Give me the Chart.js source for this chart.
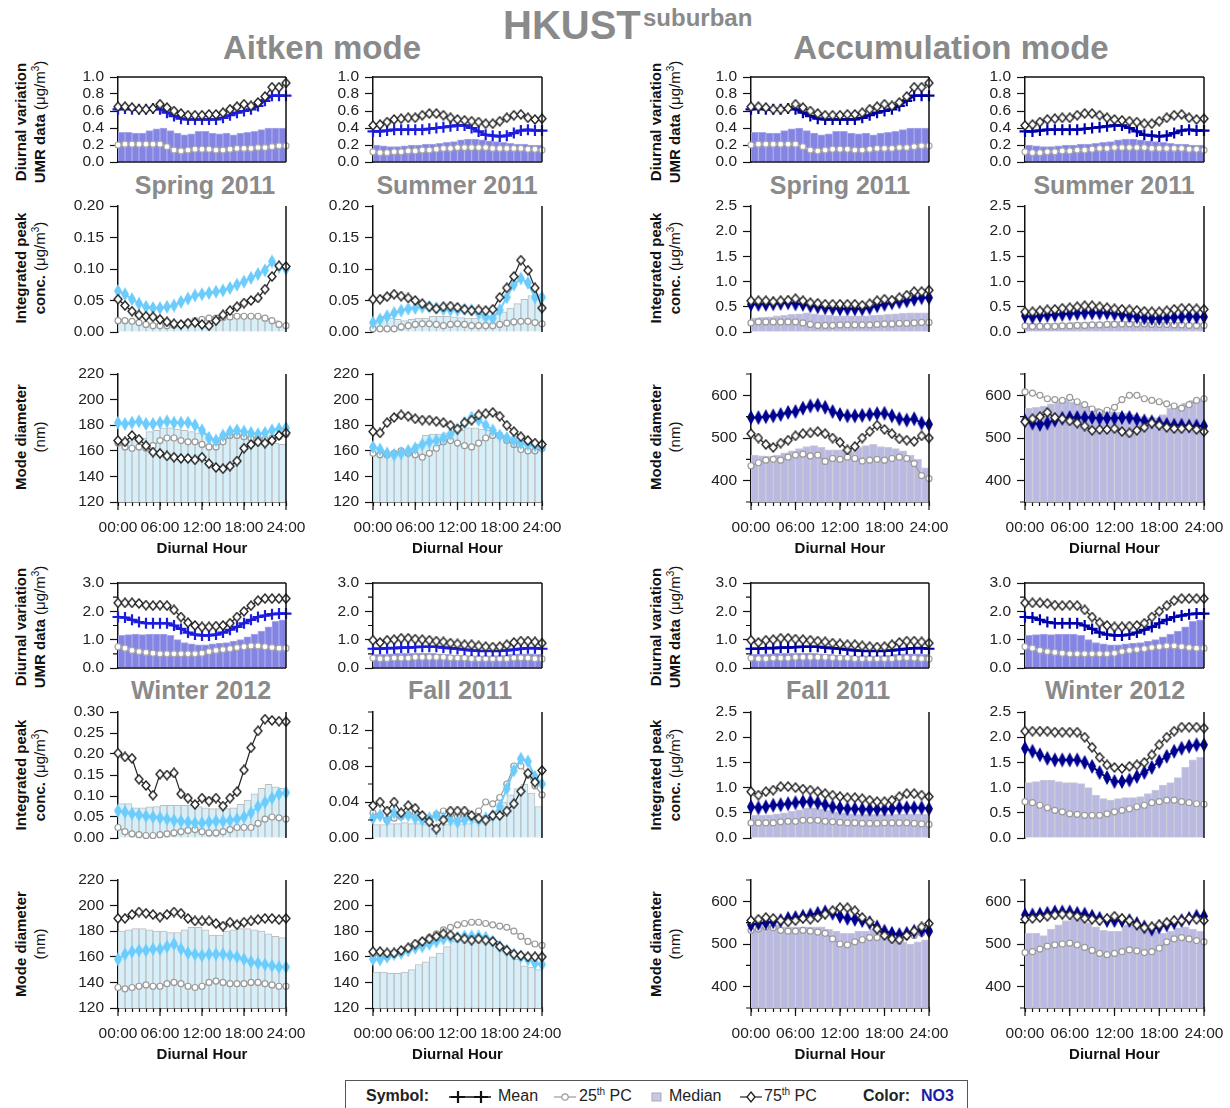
<!DOCTYPE html>
<html>
<head>
<meta charset="utf-8">
<script src="https://cdn.jsdelivr.net/npm/chart.js@4.4.1/dist/chart.umd.min.js"></script>
<style>
  body { margin: 0; background: #fff; width: 1230px; height: 1108px; position: relative; overflow: hidden;
         font-family: 'Liberation Sans', Arial, sans-serif; }
  .t { position: absolute; color: #8a8a8a; font-weight: bold; white-space: nowrap; transform: translate(-50%, -50%); }
  .yt { position: absolute; transform: translate(-50%, -50%) rotate(-90deg); text-align: center; font-size: 15px;
        line-height: 19px; white-space: nowrap; color: #111; }
  .yt sup, #leg sup { font-size: 10px; vertical-align: 6px; line-height: 0; }
  #leg { position: absolute; left: 345px; top: 1080px; width: 623px; height: 40px; border: 1.5px solid #555;
         box-sizing: border-box; font-size: 16px; color: #222; }
  #leg span, #leg svg { position: absolute; }
</style>
</head>
<body>

<div style="position:absolute;left:503px;top:3px;font-size:40px;font-weight:bold;color:#8a8a8a">HKUST</div>
<div style="position:absolute;left:643px;top:4px;font-size:24px;font-weight:bold;color:#8a8a8a">suburban</div>
<div class="t" style="left:322px;top:48px;font-size:33px">Aitken mode</div>
<div class="t" style="left:951px;top:48px;font-size:33px">Accumulation mode</div>

<div class="t" style="left:205px;top:185px;font-size:25px">Spring 2011</div>
<div class="t" style="left:457px;top:185px;font-size:25px">Summer 2011</div>
<div class="t" style="left:840px;top:185px;font-size:25px">Spring 2011</div>
<div class="t" style="left:1114px;top:185px;font-size:25px">Summer 2011</div>
<div class="t" style="left:201px;top:690px;font-size:25px">Winter 2012</div>
<div class="t" style="left:460px;top:690px;font-size:25px">Fall 2011</div>
<div class="t" style="left:838px;top:690px;font-size:25px">Fall 2011</div>
<div class="t" style="left:1115px;top:690px;font-size:25px">Winter 2012</div>

<div class="yt" style="left:30px;top:122px"><b>Diurnal variation</b><br><b>UMR data</b> (μg/m<sup>3</sup>)</div>
<div class="yt" style="left:30px;top:268px"><b>Integrated peak</b><br><b>conc.</b> (μg/m<sup>3</sup>)</div>
<div class="yt" style="left:30px;top:437px"><b>Mode diameter</b><br>(nm)</div>
<div class="yt" style="left:30px;top:627px"><b>Diurnal variation</b><br><b>UMR data</b> (μg/m<sup>3</sup>)</div>
<div class="yt" style="left:30px;top:775px"><b>Integrated peak</b><br><b>conc.</b> (μg/m<sup>3</sup>)</div>
<div class="yt" style="left:30px;top:944px"><b>Mode diameter</b><br>(nm)</div>
<div class="yt" style="left:665px;top:122px"><b>Diurnal variation</b><br><b>UMR data</b> (μg/m<sup>3</sup>)</div>
<div class="yt" style="left:665px;top:268px"><b>Integrated peak</b><br><b>conc.</b> (μg/m<sup>3</sup>)</div>
<div class="yt" style="left:665px;top:437px"><b>Mode diameter</b><br>(nm)</div>
<div class="yt" style="left:665px;top:627px"><b>Diurnal variation</b><br><b>UMR data</b> (μg/m<sup>3</sup>)</div>
<div class="yt" style="left:665px;top:775px"><b>Integrated peak</b><br><b>conc.</b> (μg/m<sup>3</sup>)</div>
<div class="yt" style="left:665px;top:944px"><b>Mode diameter</b><br>(nm)</div>

<div id="leg">
  <span style="left:20px;top:6px;font-weight:bold">Symbol:</span>
  <svg style="left:101px;top:8px" width="46" height="16"><line x1="2" y1="8" x2="44" y2="8" stroke="#111" stroke-width="1.6"/><path d="M11 2v12M4 8h14M34 2v12M27 8h14" stroke="#111" stroke-width="2.2"/></svg>
  <span style="left:152px;top:6px">Mean</span>
  <svg style="left:207px;top:8px" width="24" height="16"><line x1="1" y1="8" x2="23" y2="8" stroke="#999" stroke-width="1.2"/><circle cx="12" cy="8" r="3.2" fill="#fff" stroke="#999" stroke-width="1.2"/></svg>
  <span style="left:233px;top:6px">25<sup>th</sup> PC</span>
  <svg style="left:305px;top:9px" width="12" height="14"><rect x="1" y="3" width="9" height="8" fill="#c8c8e8" stroke="#aaa"/></svg>
  <span style="left:323px;top:6px">Median</span>
  <svg style="left:393px;top:8px" width="24" height="16"><line x1="1" y1="8" x2="23" y2="8" stroke="#222" stroke-width="1.2"/><path d="M12 3l4 5l-4 5l-4-5z" fill="#fff" stroke="#222" stroke-width="1.3"/></svg>
  <span style="left:418px;top:6px">75<sup>th</sup> PC</span>
  <span style="left:517px;top:6px;font-weight:bold">Color:</span>
  <span style="left:575px;top:6px;font-weight:bold;color:#1c1ca8">NO3</span>
</div>

<script>
// x positions: hourly points for the lines, hour centres for the median bars
const hours = [0,1,2,3,4,5,6,7,8,9,10,11,12,13,14,15,16,17,18,19,20,21,22,23,24];
const barHours = [0.5,1.5,2.5,3.5,4.5,5.5,6.5,7.5,8.5,9.5,10.5,11.5,12.5,13.5,14.5,15.5,16.5,17.5,18.5,19.5,20.5,21.5,22.5,23.5];
const hourTicks = [0,1,2,3,4,5,6,7,8,9,10,11,12,13,14,15,16,17,18,19,20,21,22,23,24];
const hourLabels = ['00:00','06:00','12:00','18:00','24:00'];
const hourMajor = [0,6,12,18,24];

// y tick values
const umrTicks1 = [0,0.2,0.4,0.6,0.8,1.0];
const umrTicks3 = [0,1,2,3];
const umrMinor3 = [0.5,1.5,2.5];
const peakTicks20 = [0,0.05,0.10,0.15,0.20];
const peakTicks30 = [0,0.05,0.10,0.15,0.20,0.25,0.30];
const peakTicks14 = [0,0.04,0.08,0.12];
const peakMinor14 = [0.02,0.06,0.10,0.14];
const accPeakTicks = [0,0.5,1.0,1.5,2.0,2.5];
const aitDiamTicks = [120,140,160,180,200,220];
const accDiamTicks = [400,500,600];
const accDiamMinor = [350,450,550,650];

// ---- UMR data (same in Aitken and Accumulation columns)
const umrSpringMean = [0.62,0.63,0.62,0.62,0.62,0.63,0.62,0.58,0.54,0.51,0.50,0.50,0.50,0.50,0.50,0.52,0.55,0.58,0.60,0.62,0.66,0.72,0.78,0.78,0.78];
const umrSpringP75 = [0.65,0.65,0.64,0.62,0.62,0.63,0.68,0.64,0.60,0.57,0.55,0.55,0.55,0.56,0.56,0.58,0.62,0.65,0.68,0.66,0.70,0.77,0.88,0.88,0.93];
const umrSpringP25 = [0.20,0.21,0.21,0.21,0.21,0.21,0.21,0.18,0.14,0.13,0.14,0.15,0.15,0.15,0.14,0.14,0.15,0.16,0.16,0.16,0.17,0.17,0.18,0.19,0.19];
const umrSpringMed = [0.35,0.35,0.34,0.34,0.37,0.39,0.40,0.37,0.34,0.32,0.33,0.36,0.36,0.34,0.33,0.34,0.32,0.34,0.35,0.36,0.38,0.40,0.40,0.40];

const umrSummerMean = [0.36,0.36,0.37,0.38,0.38,0.38,0.38,0.38,0.39,0.40,0.41,0.42,0.43,0.43,0.40,0.36,0.32,0.31,0.30,0.31,0.34,0.37,0.38,0.37,0.37];
const umrSummerP75 = [0.43,0.44,0.47,0.50,0.51,0.52,0.52,0.55,0.57,0.57,0.55,0.52,0.50,0.49,0.48,0.47,0.45,0.45,0.48,0.52,0.55,0.56,0.52,0.50,0.51];
const umrSummerP25 = [0.12,0.11,0.11,0.12,0.12,0.13,0.13,0.14,0.14,0.15,0.16,0.16,0.17,0.17,0.17,0.17,0.17,0.16,0.16,0.16,0.16,0.16,0.15,0.15,0.14];
const umrSummerMed = [0.20,0.19,0.18,0.18,0.19,0.20,0.20,0.21,0.21,0.22,0.23,0.24,0.26,0.27,0.27,0.26,0.25,0.24,0.23,0.22,0.21,0.21,0.20,0.20];

const umrWinterMean = [1.80,1.78,1.70,1.62,1.58,1.58,1.58,1.58,1.50,1.38,1.25,1.18,1.15,1.15,1.18,1.25,1.35,1.45,1.58,1.70,1.80,1.85,1.90,1.92,1.92];
const umrWinterP75 = [2.30,2.30,2.30,2.28,2.22,2.20,2.22,2.20,2.05,1.80,1.60,1.50,1.45,1.45,1.48,1.50,1.58,1.80,2.00,2.20,2.38,2.45,2.45,2.45,2.45];
const umrWinterP25 = [0.75,0.70,0.62,0.58,0.55,0.52,0.50,0.50,0.50,0.50,0.50,0.50,0.52,0.58,0.62,0.65,0.68,0.72,0.75,0.78,0.78,0.75,0.72,0.70,0.70];
const umrWinterMed = [1.15,1.18,1.20,1.18,1.20,1.20,1.20,1.15,1.00,0.90,0.85,0.82,0.82,0.85,0.88,0.90,0.95,1.00,1.10,1.20,1.30,1.45,1.65,1.70];

const umrFallMean = [0.68,0.68,0.70,0.70,0.72,0.72,0.74,0.75,0.75,0.75,0.72,0.70,0.68,0.65,0.62,0.60,0.60,0.60,0.60,0.62,0.65,0.68,0.70,0.70,0.68];
const umrFallP75 = [0.98,0.90,0.98,1.00,1.05,1.05,1.02,1.00,0.98,0.95,0.92,0.88,0.85,0.82,0.82,0.78,0.75,0.74,0.75,0.82,0.90,0.95,0.95,0.92,0.88];
const umrFallP25 = [0.35,0.33,0.33,0.35,0.35,0.35,0.38,0.38,0.38,0.38,0.38,0.36,0.35,0.35,0.33,0.33,0.33,0.33,0.33,0.33,0.35,0.36,0.35,0.33,0.32];
const umrFallMed = [0.48,0.48,0.50,0.52,0.52,0.52,0.53,0.53,0.52,0.50,0.48,0.46,0.45,0.44,0.43,0.43,0.43,0.44,0.45,0.48,0.50,0.50,0.50,0.48];

// ---- Aitken mode, integrated peak conc.
const aitPeakSpringMean = [0.065,0.060,0.052,0.045,0.040,0.038,0.038,0.040,0.042,0.048,0.053,0.058,0.060,0.062,0.064,0.066,0.070,0.075,0.080,0.086,0.092,0.098,0.112,0.103,0.100];
const aitPeakSpringP75 = [0.052,0.042,0.033,0.027,0.025,0.024,0.020,0.016,0.013,0.012,0.014,0.015,0.012,0.010,0.018,0.027,0.034,0.040,0.046,0.050,0.054,0.068,0.088,0.105,0.104];
const aitPeakSpringP25 = [0.018,0.018,0.017,0.015,0.012,0.010,0.010,0.010,0.011,0.012,0.015,0.018,0.020,0.022,0.022,0.023,0.024,0.025,0.025,0.025,0.025,0.022,0.018,0.012,0.010];
const aitPeakSpringMed = [0.020,0.018,0.017,0.015,0.014,0.013,0.012,0.012,0.013,0.015,0.018,0.020,0.022,0.025,0.027,0.028,0.028,0.028,0.027,0.027,0.025,0.022,0.018,0.012];

const aitPeakSummerMean = [0.015,0.020,0.025,0.030,0.034,0.037,0.038,0.040,0.040,0.038,0.036,0.035,0.035,0.036,0.035,0.030,0.024,0.022,0.035,0.055,0.075,0.085,0.078,0.055,0.055];
const aitPeakSummerP75 = [0.052,0.052,0.056,0.060,0.057,0.054,0.050,0.045,0.040,0.037,0.040,0.041,0.039,0.036,0.034,0.035,0.034,0.036,0.055,0.070,0.088,0.114,0.098,0.070,0.038];
const aitPeakSummerP25 = [0.005,0.005,0.005,0.005,0.008,0.010,0.012,0.013,0.013,0.012,0.010,0.012,0.013,0.012,0.010,0.010,0.010,0.010,0.012,0.014,0.016,0.017,0.017,0.015,0.013];
const aitPeakSummerMed = [0.015,0.025,0.022,0.020,0.018,0.020,0.022,0.022,0.025,0.025,0.025,0.024,0.023,0.022,0.022,0.024,0.026,0.028,0.032,0.038,0.045,0.052,0.058,0.060];

const aitPeakWinterMean = [0.065,0.062,0.058,0.055,0.052,0.050,0.048,0.045,0.042,0.040,0.038,0.036,0.036,0.038,0.040,0.040,0.042,0.045,0.050,0.060,0.075,0.085,0.095,0.105,0.108];
const aitPeakWinterP75 = [0.202,0.193,0.190,0.140,0.125,0.102,0.152,0.150,0.155,0.105,0.095,0.080,0.095,0.088,0.095,0.076,0.095,0.110,0.162,0.215,0.255,0.283,0.280,0.278,0.277];
const aitPeakWinterP25 = [0.025,0.015,0.010,0.008,0.006,0.006,0.008,0.010,0.012,0.015,0.018,0.020,0.015,0.012,0.012,0.015,0.020,0.025,0.025,0.025,0.035,0.045,0.050,0.048,0.045];
const aitPeakWinterMed = [0.082,0.082,0.072,0.072,0.074,0.075,0.078,0.078,0.078,0.078,0.078,0.075,0.072,0.070,0.070,0.070,0.072,0.080,0.090,0.105,0.118,0.128,0.122,0.118];

const aitPeakFallMean = [0.022,0.025,0.020,0.028,0.025,0.025,0.022,0.020,0.022,0.025,0.022,0.020,0.018,0.020,0.022,0.020,0.022,0.025,0.035,0.055,0.075,0.088,0.085,0.068,0.060];
const aitPeakFallP75 = [0.036,0.040,0.030,0.040,0.028,0.036,0.033,0.025,0.018,0.010,0.020,0.030,0.030,0.030,0.025,0.022,0.020,0.025,0.025,0.030,0.038,0.052,0.072,0.062,0.075];
const aitPeakFallP25 = [0.028,0.025,0.020,0.022,0.024,0.026,0.028,0.025,0.022,0.026,0.030,0.026,0.024,0.025,0.025,0.030,0.040,0.038,0.045,0.060,0.080,0.080,0.070,0.058,0.048];
const aitPeakFallMed = [0.015,0.015,0.016,0.016,0.017,0.016,0.016,0.015,0.015,0.016,0.015,0.016,0.015,0.016,0.018,0.020,0.025,0.030,0.040,0.048,0.055,0.060,0.050,0.035];

// ---- Aitken mode, mode diameter (nm)
const aitDiamSpringMean = [182,181,182,183,181,181,182,183,182,182,182,180,176,170,168,172,175,176,175,174,173,174,176,177,178];
const aitDiamSpringP75 = [168,167,172,169,164,159,158,156,155,154,154,153,155,150,147,146,148,152,162,165,167,166,168,172,174];
const aitDiamSpringP25 = [166,163,162,163,162,164,168,170,170,168,167,167,165,163,163,167,172,172,171,170,170,169,170,171,173];
const aitDiamSpringMed = [168,168,170,170,175,176,178,178,177,176,175,174,174,170,168,172,172,172,170,168,167,166,166,165];

const aitDiamSummerMean = [163,161,158,157,158,160,162,165,167,168,170,173,177,182,186,184,180,176,172,170,168,166,165,164,163];
const aitDiamSummerP75 = [175,174,182,186,188,187,185,184,184,183,182,180,177,182,184,188,189,190,187,180,175,171,168,166,165];
const aitDiamSummerP25 = [158,157,157,158,160,158,157,155,158,162,167,168,166,164,163,166,170,172,172,168,165,161,160,160,162];
const aitDiamSummerMed = [158,158,157,157,158,160,165,172,173,173,174,175,176,178,178,177,176,174,172,171,170,170,168,165];

const aitDiamWinterMean = [158,162,164,165,165,166,166,168,170,166,163,162,161,162,162,162,161,160,158,156,155,154,153,152,152];
const aitDiamWinterP75 = [190,190,193,195,194,193,191,193,195,194,190,188,188,188,186,184,187,185,187,188,189,190,190,189,190];
const aitDiamWinterP25 = [136,135,136,137,138,137,137,139,140,139,137,136,137,140,141,140,139,139,139,140,140,139,138,137,137];
const aitDiamWinterMed = [180,181,182,182,181,180,180,179,179,181,183,183,181,177,177,180,181,182,182,181,180,178,176,175];

const aitDiamFallMean = [158,158,160,162,163,165,167,168,170,172,174,175,175,176,176,176,175,172,168,165,162,160,158,155,154];
const aitDiamFallP75 = [164,164,163,163,165,167,170,172,174,176,178,177,175,174,173,174,173,172,168,165,162,161,160,160,160];
const aitDiamFallP25 = [162,161,160,162,163,166,168,172,175,178,181,183,185,186,187,187,186,185,184,183,180,176,172,170,169];
const aitDiamFallMed = [148,148,147,147,148,150,154,156,160,163,168,172,175,176,176,176,175,172,168,163,158,153,152,150];

// ---- Accumulation mode, integrated peak conc.
const accPeakSpringMean = [0.55,0.55,0.55,0.56,0.57,0.58,0.56,0.55,0.52,0.50,0.48,0.47,0.46,0.46,0.46,0.46,0.48,0.52,0.55,0.58,0.60,0.62,0.65,0.68,0.68];
const accPeakSpringP75 = [0.62,0.62,0.62,0.60,0.62,0.63,0.66,0.62,0.58,0.57,0.55,0.55,0.55,0.55,0.55,0.53,0.56,0.62,0.65,0.63,0.68,0.73,0.80,0.80,0.83];
const accPeakSpringP25 = [0.18,0.20,0.20,0.20,0.20,0.20,0.20,0.18,0.15,0.13,0.13,0.13,0.14,0.14,0.14,0.14,0.14,0.15,0.16,0.16,0.17,0.17,0.18,0.19,0.19];
const accPeakSpringMed = [0.28,0.29,0.30,0.32,0.33,0.35,0.36,0.38,0.36,0.34,0.33,0.32,0.32,0.32,0.32,0.32,0.33,0.34,0.35,0.36,0.37,0.38,0.38,0.38];

const accPeakSummerMean = [0.32,0.30,0.32,0.33,0.34,0.35,0.36,0.37,0.38,0.38,0.38,0.38,0.36,0.34,0.32,0.30,0.28,0.27,0.27,0.28,0.29,0.30,0.31,0.30,0.30];
const accPeakSummerP75 = [0.40,0.40,0.42,0.44,0.45,0.47,0.48,0.50,0.52,0.52,0.50,0.48,0.46,0.45,0.44,0.43,0.41,0.40,0.40,0.42,0.45,0.47,0.47,0.46,0.45];
const accPeakSummerP25 = [0.12,0.11,0.11,0.11,0.11,0.12,0.12,0.13,0.13,0.14,0.14,0.15,0.15,0.16,0.16,0.16,0.16,0.15,0.15,0.15,0.14,0.14,0.13,0.13,0.13];
const accPeakSummerMed = [0.18,0.17,0.17,0.17,0.18,0.18,0.19,0.19,0.20,0.20,0.20,0.21,0.21,0.21,0.21,0.20,0.20,0.20,0.19,0.19,0.19,0.18,0.18,0.18];

const accPeakFallMean = [0.62,0.60,0.62,0.65,0.66,0.68,0.70,0.72,0.72,0.70,0.66,0.62,0.60,0.58,0.58,0.57,0.57,0.57,0.57,0.58,0.60,0.60,0.60,0.60,0.58];
const accPeakFallP75 = [0.92,0.85,0.92,0.95,1.02,1.02,1.00,0.97,0.95,0.92,0.88,0.85,0.82,0.80,0.80,0.78,0.75,0.72,0.72,0.75,0.82,0.88,0.88,0.85,0.82];
const accPeakFallP25 = [0.30,0.30,0.30,0.30,0.32,0.33,0.33,0.35,0.35,0.35,0.33,0.32,0.31,0.30,0.30,0.29,0.29,0.29,0.30,0.30,0.30,0.30,0.29,0.28,0.27];
const accPeakFallMed = [0.45,0.45,0.46,0.48,0.50,0.53,0.56,0.60,0.60,0.58,0.55,0.52,0.50,0.48,0.47,0.47,0.47,0.47,0.47,0.47,0.48,0.48,0.48,0.47];

const accPeakWinterMean = [1.78,1.72,1.65,1.58,1.55,1.55,1.55,1.55,1.50,1.42,1.30,1.20,1.12,1.12,1.15,1.22,1.30,1.40,1.52,1.62,1.72,1.78,1.82,1.85,1.85];
const accPeakWinterP75 = [2.12,2.12,2.12,2.12,2.10,2.10,2.10,2.10,2.00,1.80,1.60,1.45,1.40,1.38,1.42,1.45,1.50,1.65,1.85,2.00,2.12,2.20,2.20,2.20,2.18];
const accPeakWinterP25 = [0.72,0.70,0.65,0.60,0.55,0.52,0.48,0.47,0.45,0.45,0.45,0.48,0.52,0.55,0.58,0.62,0.65,0.70,0.72,0.75,0.75,0.72,0.70,0.68,0.67];
const accPeakWinterMed = [1.10,1.12,1.15,1.15,1.12,1.10,1.10,1.08,1.00,0.85,0.78,0.75,0.78,0.80,0.80,0.82,0.88,0.95,1.05,1.10,1.20,1.40,1.55,1.60];

// ---- Accumulation mode, mode diameter (nm)
const accDiamSpringMean = [548,548,550,552,555,560,562,570,575,577,572,562,555,552,552,553,555,557,558,552,545,542,545,535,532];
const accDiamSpringP75 = [510,500,485,478,488,495,505,510,512,515,510,500,490,472,480,500,515,530,520,510,498,495,492,505,500];
const accDiamSpringP25 = [435,442,448,450,448,455,460,462,458,460,445,452,450,455,452,446,448,450,448,452,455,452,440,412,405];
const accDiamSpringMed = [460,458,457,460,465,470,475,480,482,478,472,472,472,468,478,482,485,480,478,475,470,460,450,430];

const accDiamSummerMean = [540,535,532,535,542,546,548,548,548,548,546,546,546,548,548,544,540,538,535,532,530,530,528,528,528];
const accDiamSummerP75 = [538,545,550,560,548,545,540,535,528,518,520,520,522,515,512,518,525,535,530,525,522,522,525,520,515];
const accDiamSummerP25 = [608,605,600,592,590,588,595,585,578,568,560,565,572,590,600,600,592,588,585,580,575,570,578,588,592];
const accDiamSummerMed = [570,572,575,580,585,588,585,580,575,570,565,562,560,558,555,550,548,548,555,570,575,582,588,592];

const accDiamFallMean = [545,548,550,552,555,560,562,565,568,572,575,572,565,560,558,555,550,540,530,525,522,525,530,532,530];
const accDiamFallP75 = [555,558,562,560,555,552,555,560,558,562,570,578,585,585,578,562,552,535,520,512,510,520,530,540,548];
const accDiamFallP25 = [532,535,540,538,532,530,530,532,530,528,525,512,500,498,505,510,515,515,520,520,522,518,520,525,530];
const accDiamFallMed = [535,540,545,545,540,540,540,540,540,540,535,530,525,525,530,530,535,530,520,515,505,500,505,510];

const accDiamWinterMean = [568,568,570,572,575,575,575,572,570,565,560,555,555,555,555,548,540,535,540,545,550,555,560,565,565];
const accDiamWinterP75 = [558,560,562,565,568,570,568,565,560,558,555,560,565,560,555,545,538,540,545,550,555,555,560,558,555];
const accDiamWinterP25 = [480,482,488,495,498,500,502,498,492,485,478,475,478,482,486,484,480,482,490,505,512,515,512,508,505];
const accDiamWinterMed = [525,525,520,535,545,555,560,558,550,540,532,530,530,545,548,545,540,530,525,530,538,540,535,530];

Chart.defaults.font.family = "'Liberation Sans', Arial, sans-serif";

function diamond(w, h, fill, stroke, lw) {
    const c = document.createElement('canvas');
    c.width = w + 2; c.height = h + 2;
    const g = c.getContext('2d');
    g.beginPath();
    g.moveTo(c.width / 2, 1); g.lineTo(c.width - 1, c.height / 2);
    g.lineTo(c.width / 2, c.height - 1); g.lineTo(1, c.height / 2);
    g.closePath();
    g.fillStyle = fill; g.fill();
    if (stroke) { g.strokeStyle = stroke; g.lineWidth = lw; g.stroke(); }
    return c;
}
const openDiamond = diamond(8, 9, '#fff', '#222', 1.4);

const styles = {
    umrA: { bar: '#8484e2', barEdge: '#a9a9ec', mean: '#1c1cdc', meanPt: 'cross', meanW: 2.6, p25Line: '#cfcfcf', p25Pt: '#a8a8a8' },
    umrB: { bar: '#8484e2', barEdge: '#a9a9ec', mean: '#0000a8', meanPt: 'cross', meanW: 2.6, p25Line: '#cfcfcf', p25Pt: '#a8a8a8' },
    ait:  { bar: '#d7eff9', barEdge: '#bdbdbd', mean: '#6cccfc', meanPt: diamond(8, 14, '#6cccfc'), meanW: 2, p25Line: '#9a9a9a', p25Pt: '#9a9a9a' },
    acc:  { bar: '#b9b9e2', barEdge: '#cbcbd6', mean: '#00008f', meanPt: diamond(8, 15, '#00008f'), meanW: 2, p25Line: '#9a9a9a', p25Pt: '#9a9a9a' }
};

// right edge, top edge (UMR), minor y ticks and the longer 6-hour ticks
const framePlugin = {
    id: 'frame',
    afterDraw(chart, args, o) {
        const { ctx, chartArea: a, scales } = chart;
        ctx.save();
        ctx.strokeStyle = '#111';
        ctx.lineWidth = 1.5;
        ctx.beginPath();
        ctx.moveTo(a.right, a.top); ctx.lineTo(a.right, a.bottom);
        if (o.box) {
            ctx.moveTo(a.left, a.top); ctx.lineTo(a.right, a.top);
            ctx.moveTo(a.left, a.bottom); ctx.lineTo(a.right, a.bottom);
        }
        ctx.stroke();
        ctx.lineWidth = 1.2;
        ctx.beginPath();
        (o.minorY || []).forEach(v => {
            const y = scales.y.getPixelForValue(v);
            ctx.moveTo(a.left - 5, y); ctx.lineTo(a.left, y);
        });
        (o.majorX || []).forEach(v => {
            const x = scales.x.getPixelForValue(v);
            ctx.moveTo(x, a.bottom); ctx.lineTo(x, a.bottom + 8);
        });
        ctx.stroke();
        ctx.restore();
    }
};

function makePanel(p) {
    const xLab = p.row === 3 || p.row === 6;
    const xH = 56, padT = 12, padR = 28, yW = 70;
    const padB = xLab ? 2 : 12;
    const W = yW + p.w + padR, H = padT + p.h + (xLab ? xH : 0) + padB;
    const cv = document.createElement('canvas');
    cv.width = W; cv.height = H;
    cv.style.cssText = `position:absolute;left:${p.x - yW}px;top:${p.y - padT}px;width:${W}px;height:${H}px`;
    document.body.appendChild(cv);
    const st = styles[p.style];
    const pts = arr => hours.map((x, i) => ({ x, y: arr[i] }));

    new Chart(cv, {
        type: 'line',
        data: {
            datasets: [
                { type: 'bar', data: barHours.map((x, i) => ({ x, y: p.med[i] })), backgroundColor: st.bar,
                  borderColor: st.barEdge, borderWidth: 1, barPercentage: 1, categoryPercentage: 1, order: 4 },
                { data: pts(p.p25), borderColor: st.p25Line, borderWidth: 1.2, pointStyle: 'circle', pointRadius: 3,
                  pointBorderWidth: 1.2, pointBackgroundColor: '#fff', pointBorderColor: st.p25Pt, order: 3, clip: false },
                { data: pts(p.mean), borderColor: st.mean, borderWidth: st.meanW, pointStyle: st.meanPt, pointRadius: 5.5,
                  pointBorderWidth: 2.2, pointBorderColor: st.mean, pointBackgroundColor: st.mean, order: 2, clip: false },
                { data: pts(p.p75), borderColor: '#222', borderWidth: 1.2, pointStyle: openDiamond, pointRadius: 4,
                  order: 1, clip: false }
            ]
        },
        options: {
            responsive: false,
            animation: false,
            events: [],
            layout: { padding: { left: 0, top: padT, right: padR, bottom: padB } },
            plugins: {
                legend: { display: false },
                tooltip: { enabled: false },
                frame: { box: p.row === 1 || p.row === 4, minorY: p.yMinor, majorX: xLab ? hourMajor : null }
            },
            scales: {
                x: {
                    type: 'linear', min: 0, max: 24, offset: false, display: xLab,
                    afterBuildTicks: s => { s.ticks = hourTicks.map(v => ({ value: v })); },
                    afterFit: s => { s.height = xLab ? xH : 0; s.paddingLeft = 0; s.paddingRight = 0; },
                    grid: { drawOnChartArea: false, tickLength: 4, tickColor: '#111', tickWidth: 1.2, offset: false },
                    border: { color: '#111', width: 1.5 },
                    ticks: { autoSkip: false, maxRotation: 0, padding: 12, color: '#222', font: { size: 15.5 },
                             callback: v => v % 6 === 0 ? hourLabels[v / 6] : '' },
                    title: { display: true, text: 'Diurnal Hour', color: '#111', font: { size: 15, weight: 'bold' }, padding: 0 }
                },
                y: {
                    min: p.yMin, max: p.yMax,
                    afterBuildTicks: s => { s.ticks = p.yTicks.map(v => ({ value: v })); },
                    afterFit: s => { s.width = yW; s.paddingTop = 0; s.paddingBottom = 0; },
                    grid: { drawOnChartArea: false, tickLength: 8, tickColor: '#111', tickWidth: 1.2 },
                    border: { color: '#111', width: 1.5 },
                    ticks: { autoSkip: false, padding: 6, color: '#222', font: { size: 15.5 }, callback: v => v.toFixed(p.dig) }
                }
            }
        },
        plugins: [framePlugin]
    });
}

const cols = [{ x: 118, w: 168 }, { x: 373, w: 169 }, { x: 751, w: 178 }, { x: 1025, w: 179 }];
const rows = { 1: { y: 77, h: 85 }, 2: { y: 206, h: 126 }, 3: { y: 374, h: 128 },
               4: { y: 583, h: 85 }, 5: { y: 712, h: 126 }, 6: { y: 880, h: 128 } };

const umr1 = { yMin: 0, yMax: 1, yTicks: umrTicks1, dig: 1 };
const umr3 = { yMin: 0, yMax: 3, yTicks: umrTicks3, yMinor: umrMinor3, dig: 1 };
const aitDiam = { yMin: 120, yMax: 220, yTicks: aitDiamTicks, dig: 0 };
const accPeak = { yMin: 0, yMax: 2.5, yTicks: accPeakTicks, dig: 1 };
const accDiam = { yMin: 350, yMax: 650, yTicks: accDiamTicks, yMinor: accDiamMinor, dig: 0 };

const panels = [
    { row: 1, col: 0, style: 'umrA', ...umr1, mean: umrSpringMean, p25: umrSpringP25, p75: umrSpringP75, med: umrSpringMed },
    { row: 1, col: 1, style: 'umrA', ...umr1, mean: umrSummerMean, p25: umrSummerP25, p75: umrSummerP75, med: umrSummerMed },
    { row: 1, col: 2, style: 'umrB', ...umr1, mean: umrSpringMean, p25: umrSpringP25, p75: umrSpringP75, med: umrSpringMed },
    { row: 1, col: 3, style: 'umrB', ...umr1, mean: umrSummerMean, p25: umrSummerP25, p75: umrSummerP75, med: umrSummerMed },

    { row: 2, col: 0, style: 'ait', yMin: 0, yMax: 0.2, yTicks: peakTicks20, dig: 2,
      mean: aitPeakSpringMean, p25: aitPeakSpringP25, p75: aitPeakSpringP75, med: aitPeakSpringMed },
    { row: 2, col: 1, style: 'ait', yMin: 0, yMax: 0.2, yTicks: peakTicks20, dig: 2,
      mean: aitPeakSummerMean, p25: aitPeakSummerP25, p75: aitPeakSummerP75, med: aitPeakSummerMed },
    { row: 2, col: 2, style: 'acc', ...accPeak, mean: accPeakSpringMean, p25: accPeakSpringP25, p75: accPeakSpringP75, med: accPeakSpringMed },
    { row: 2, col: 3, style: 'acc', ...accPeak, mean: accPeakSummerMean, p25: accPeakSummerP25, p75: accPeakSummerP75, med: accPeakSummerMed },

    { row: 3, col: 0, style: 'ait', ...aitDiam, mean: aitDiamSpringMean, p25: aitDiamSpringP25, p75: aitDiamSpringP75, med: aitDiamSpringMed },
    { row: 3, col: 1, style: 'ait', ...aitDiam, mean: aitDiamSummerMean, p25: aitDiamSummerP25, p75: aitDiamSummerP75, med: aitDiamSummerMed },
    { row: 3, col: 2, style: 'acc', ...accDiam, mean: accDiamSpringMean, p25: accDiamSpringP25, p75: accDiamSpringP75, med: accDiamSpringMed },
    { row: 3, col: 3, style: 'acc', ...accDiam, mean: accDiamSummerMean, p25: accDiamSummerP25, p75: accDiamSummerP75, med: accDiamSummerMed },

    { row: 4, col: 0, style: 'umrA', ...umr3, mean: umrWinterMean, p25: umrWinterP25, p75: umrWinterP75, med: umrWinterMed },
    { row: 4, col: 1, style: 'umrA', ...umr3, mean: umrFallMean, p25: umrFallP25, p75: umrFallP75, med: umrFallMed },
    { row: 4, col: 2, style: 'umrB', ...umr3, mean: umrFallMean, p25: umrFallP25, p75: umrFallP75, med: umrFallMed },
    { row: 4, col: 3, style: 'umrB', ...umr3, mean: umrWinterMean, p25: umrWinterP25, p75: umrWinterP75, med: umrWinterMed },

    { row: 5, col: 0, style: 'ait', yMin: 0, yMax: 0.3, yTicks: peakTicks30, dig: 2,
      mean: aitPeakWinterMean, p25: aitPeakWinterP25, p75: aitPeakWinterP75, med: aitPeakWinterMed },
    { row: 5, col: 1, style: 'ait', yMin: 0, yMax: 0.14, yTicks: peakTicks14, yMinor: peakMinor14, dig: 2,
      mean: aitPeakFallMean, p25: aitPeakFallP25, p75: aitPeakFallP75, med: aitPeakFallMed },
    { row: 5, col: 2, style: 'acc', ...accPeak, mean: accPeakFallMean, p25: accPeakFallP25, p75: accPeakFallP75, med: accPeakFallMed },
    { row: 5, col: 3, style: 'acc', ...accPeak, mean: accPeakWinterMean, p25: accPeakWinterP25, p75: accPeakWinterP75, med: accPeakWinterMed },

    { row: 6, col: 0, style: 'ait', ...aitDiam, mean: aitDiamWinterMean, p25: aitDiamWinterP25, p75: aitDiamWinterP75, med: aitDiamWinterMed },
    { row: 6, col: 1, style: 'ait', ...aitDiam, mean: aitDiamFallMean, p25: aitDiamFallP25, p75: aitDiamFallP75, med: aitDiamFallMed },
    { row: 6, col: 2, style: 'acc', ...accDiam, mean: accDiamFallMean, p25: accDiamFallP25, p75: accDiamFallP75, med: accDiamFallMed },
    { row: 6, col: 3, style: 'acc', ...accDiam, mean: accDiamWinterMean, p25: accDiamWinterP25, p75: accDiamWinterP75, med: accDiamWinterMed }
];

panels.forEach(p => makePanel({ ...p, x: cols[p.col].x, w: cols[p.col].w, y: rows[p.row].y, h: rows[p.row].h }));
</script>
</body>
</html>
